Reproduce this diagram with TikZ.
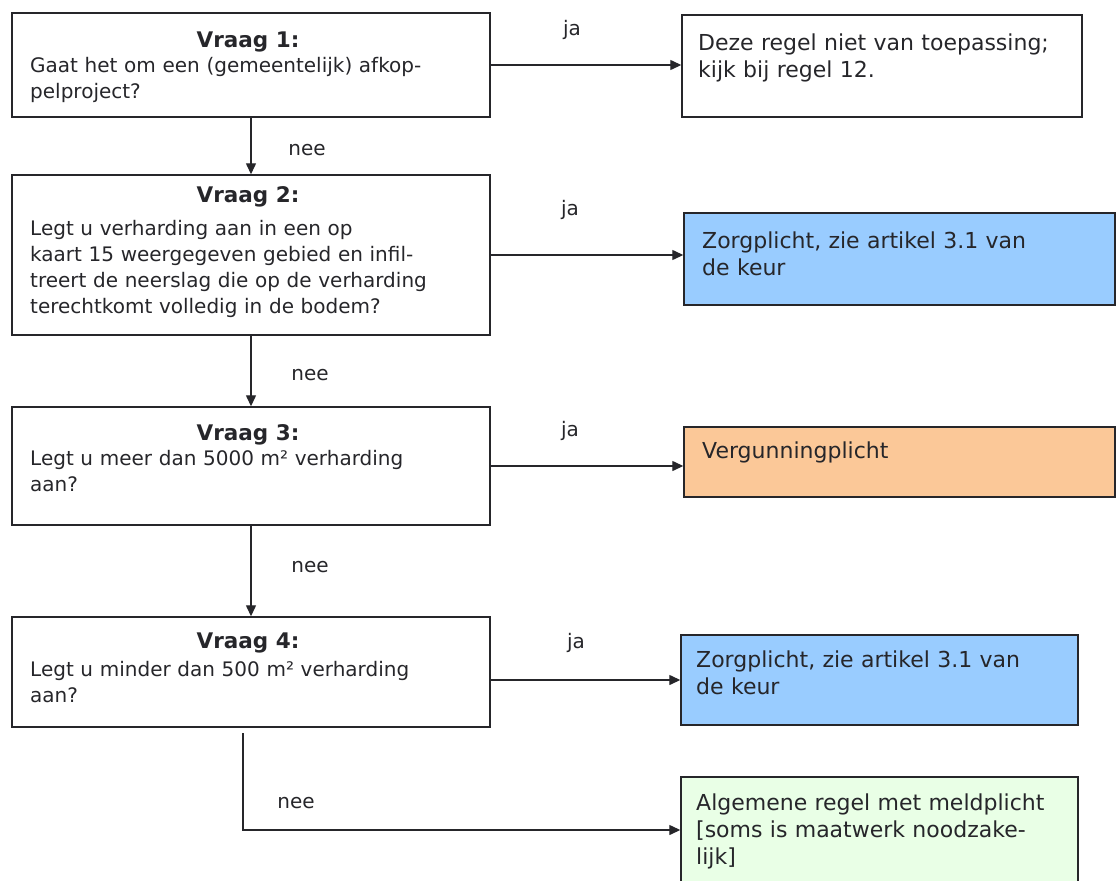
\documentclass[tikz,border=0pt]{standalone}
\usepackage{fontspec}
\setmainfont{DejaVu Sans}
\usetikzlibrary{arrows.meta}

\definecolor{zorgblue}{RGB}{153,204,255}
\definecolor{vergunorange}{RGB}{251,200,152}
\definecolor{meldgreen}{RGB}{233,255,230}
\definecolor{inkgray}{RGB}{38,38,42}

\tikzset{
  vraagbox/.style={draw=inkgray, line width=1.4pt, inner sep=0pt, minimum width=478pt},
  uitbox/.style={draw=inkgray, line width=1.4pt, inner sep=0pt},
  vraagkop/.style={anchor=base, inner sep=0pt, font=\fontsize{21.5}{26}\selectfont\bfseries},
  boxtekst/.style={anchor=base west, inner sep=0pt, align=left, text width=#1},
  uittekst/.style={boxtekst=#1, font=\fontsize{22}{27}\selectfont},
  keuze/.style={anchor=base, inner sep=0pt},
  pijl/.style={draw=inkgray, line width=1.3pt, -{Triangle[length=11pt,width=10pt]}},
}

\begin{document}
\begin{tikzpicture}[x=1pt, y=-1pt, font=\fontsize{20}{26}\selectfont, text=inkgray]
\useasboundingbox (0,0) rectangle (1117,881);
\clip (0,0) rectangle (1117,881);

% vragen
\node[vraagbox, minimum height=104pt] (q1) at (251,65) {};
\node[vraagbox, minimum height=160pt] (q2) at (251,255) {};
\node[vraagbox, minimum height=118pt] (q3) at (251,466) {};
\node[vraagbox, minimum height=110pt] (q4) at (251,672) {};

\node[vraagkop] (q1h) at (248,47) {Vraag 1:};
\node[boxtekst=440pt] (q1t) at (30,72) {Gaat het om een (gemeentelijk) afkop-\\pelproject?};
\node[vraagkop] (q2h) at (248,202) {Vraag 2:};
\node[boxtekst=440pt] (q2t) at (30,235) {Legt u verharding aan in een op\\kaart 15 weergegeven gebied en infil-\\treert de neerslag die op de verharding\\terechtkomt volledig in de bodem?};
\node[vraagkop] (q3h) at (248,440) {Vraag 3:};
\node[boxtekst=440pt] (q3t) at (30,465) {Legt u meer dan 5000 m² verharding\\aan?};
\node[vraagkop] (q4h) at (248,648) {Vraag 4:};
\node[boxtekst=440pt] (q4t) at (30,676) {Legt u minder dan 500 m² verharding\\aan?};

% uitkomsten
\node[uitbox, minimum width=400pt, minimum height=102pt] (r1) at (882,66) {};
\node[uitbox, fill=zorgblue, minimum width=431pt, minimum height=92pt] (r2) at (899.5,259) {};
\node[uitbox, fill=vergunorange, minimum width=431pt, minimum height=70pt] (r3) at (899.5,462) {};
\node[uitbox, fill=zorgblue, minimum width=397pt, minimum height=90pt] (r4) at (879.5,680) {};
\node[uitbox, fill=meldgreen, minimum width=397pt, minimum height=130pt] (r5) at (879.5,842) {};

\node[uittekst=378pt] (r1t) at (698,50) {Deze regel niet van toepassing;\\kijk bij regel 12.};
\node[uittekst=400pt] (r2t) at (702,248) {Zorgplicht, zie artikel 3.1 van\\de keur};
\node[uittekst=400pt] (r3t) at (702,458) {Vergunningplicht};
\node[uittekst=378pt] (r4t) at (696,667) {Zorgplicht, zie artikel 3.1 van\\de keur};
\node[uittekst=378pt] (r5t) at (696,810) {Algemene regel met meldplicht\\{}[soms is maatwerk noodzake-\\lijk]};

% ja
\draw[pijl] (q1.east) -- (q1.east -| r1.west);
\draw[pijl] (q2.east) -- (q2.east -| r2.west);
\draw[pijl] (q3.east) -- (q3.east -| r3.west);
\draw[pijl] (q4.east |- r4.west) -- (r4.west);
\node[keuze] (ja1) at (572,35) {ja};
\node[keuze] (ja2) at (570,215) {ja};
\node[keuze] (ja3) at (570,436) {ja};
\node[keuze] (ja4) at (576,648) {ja};

% nee
\draw[pijl] (q1) -- (q2);
\draw[pijl] (q2) -- (q3);
\draw[pijl] (q3) -- (q4);
\coordinate (q4uit) at (243,733);
\draw[pijl] (q4uit) |- ([yshift=12pt]r5.west);
\node[keuze] (nee1) at (307,155) {nee};
\node[keuze] (nee2) at (310,380) {nee};
\node[keuze] (nee3) at (310,572) {nee};
\node[keuze] (nee4) at (296,808) {nee};
\end{tikzpicture}
\end{document}
